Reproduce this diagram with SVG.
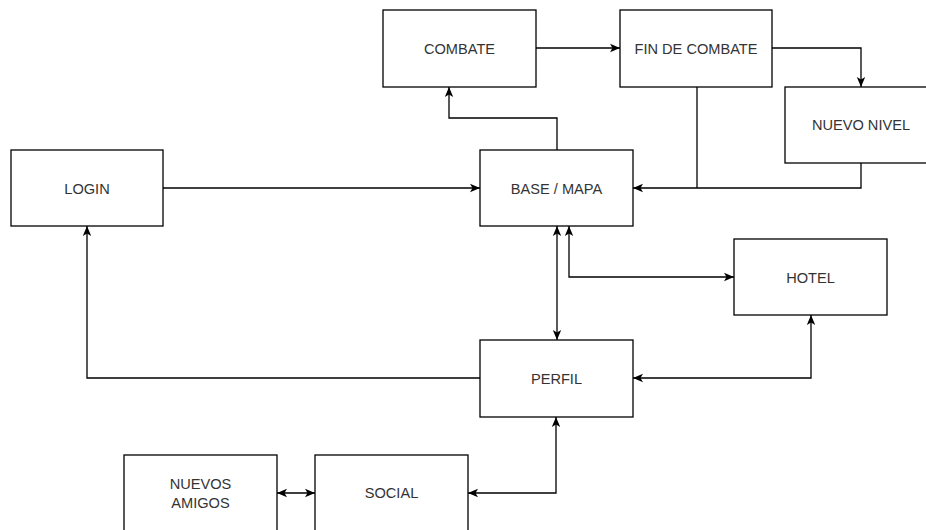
<svg xmlns="http://www.w3.org/2000/svg" width="926" height="530" viewBox="0 0 926 530">
<style>
.box{fill:#fff;stroke:#000;stroke-width:1.3}
.lbl{font-family:"Liberation Sans",Arial,sans-serif;font-size:14.6px;fill:#333;text-anchor:middle}
.c{fill:none;stroke:#000;stroke-width:1.3}
.e{marker-end:url(#arr)}
.b{marker-start:url(#arr);marker-end:url(#arr)}
</style>
<defs>
<marker id="arr" viewBox="0 0 11 10" refX="10.5" refY="5" markerWidth="11" markerHeight="10" markerUnits="userSpaceOnUse" orient="auto-start-reverse">
<path d="M0.5,0.8 L10.5,5 L0.5,9.2 L3,5 Z" fill="#000"/>
</marker>
</defs>
<rect width="926" height="530" fill="#fff"/>
<g id="connectors">
<path class="c e" d="M163,188 H480"/>
<path class="c e" d="M557,150 V118 H449 V87"/>
<path class="c e" d="M536,48 H620"/>
<path class="c e" d="M772,48 H861 V87"/>
<path class="c" d="M697,87 V188"/>
<path class="c e" d="M861,163 V188 H633"/>
<path class="c b" d="M557,226 V340"/>
<path class="c b" d="M569,226 V277 H734"/>
<path class="c b" d="M811,315 V378 H633"/>
<path class="c e" d="M480,378 H87 V226"/>
<path class="c b" d="M556,417 V493 H468"/>
<path class="c b" d="M277,493 H315"/>
</g>
<g id="combate"><rect class="box" x="383" y="10" width="153" height="77"/><text class="lbl" x="459.5" y="53.5">COMBATE</text></g>
<g id="fin-de-combate"><rect class="box" x="620" y="10" width="152" height="77"/><text class="lbl" x="696" y="53.5">FIN DE COMBATE</text></g>
<g id="nuevo-nivel"><rect class="box" x="785" y="87" width="152" height="76"/><text class="lbl" x="861" y="130">NUEVO NIVEL</text></g>
<g id="login"><rect class="box" x="11" y="150" width="152" height="76"/><text class="lbl" x="87" y="193.5">LOGIN</text></g>
<g id="base-mapa"><rect class="box" x="480" y="150" width="153" height="76"/><text class="lbl" x="556.5" y="193.5">BASE / MAPA</text></g>
<g id="hotel"><rect class="box" x="734" y="239" width="153" height="76"/><text class="lbl" x="810.5" y="282.5">HOTEL</text></g>
<g id="perfil"><rect class="box" x="480" y="340" width="153" height="77"/><text class="lbl" x="556.5" y="383.5">PERFIL</text></g>
<g id="nuevos-amigos"><rect class="box" x="124" y="455" width="153" height="76"/><text class="lbl" x="200.5" y="488.5">NUEVOS</text><text class="lbl" x="200.5" y="507.5">AMIGOS</text></g>
<g id="social"><rect class="box" x="315" y="455" width="153" height="76"/><text class="lbl" x="391.5" y="497.5">SOCIAL</text></g>
</svg>
